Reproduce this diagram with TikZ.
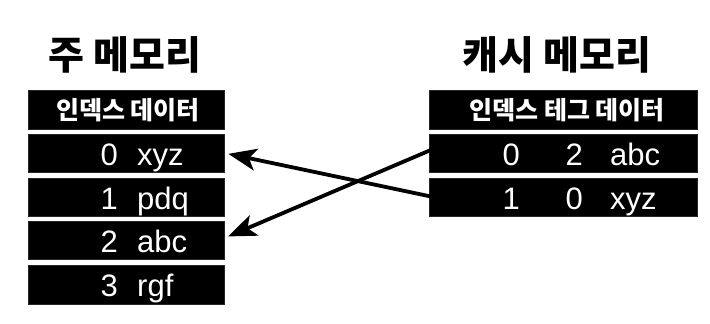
\documentclass[tikz,border=0pt]{standalone}
\usepackage{fontspec}
\setmainfont{Liberation Sans}
\newfontfamily\kr{Noto Sans CJK KR}
\usetikzlibrary{arrows.meta}
\tikzset{
  rowbox/.style={draw=black!85, fill=black, line width=1pt, inner sep=0pt},
  cell/.style={text=white, inner sep=0pt, font=\fontsize{31}{31}\selectfont},
  hdr/.style={text=white, inner sep=0pt, font=\kr\bfseries\fontsize{25}{25}\selectfont},
  ttl/.style={text=black, inner sep=0pt, font=\kr\bfseries\fontsize{39}{39}\selectfont},
  link/.style={line width=3.8pt, -{Stealth[length=28pt,width=22pt,inset=7pt]}, shorten >=4pt, shorten <=-3pt}
}
\begin{document}
\begin{tikzpicture}[x=1pt,y=-1pt]
\useasboundingbox (0,0) rectangle (710,324);
% left table
\node[ttl] (lt) at (125,55) {주 메모리};
\node[rowbox, minimum width=196pt, minimum height=39pt] (lh) at (126,109.5) {};
\node[rowbox, minimum width=196pt, minimum height=38pt] (l0) at (126,153) {};
\node[rowbox, minimum width=196pt, minimum height=38pt] (l1) at (126,197) {};
\node[rowbox, minimum width=196pt, minimum height=38pt] (l2) at (126,240) {};
\node[rowbox, minimum width=196pt, minimum height=39pt] (l3) at (126,284.5) {};
\node[hdr] (lhtext) at (128,110) {인덱스 데이터};
\node[cell, anchor=base east] (l0i) at (118,165) {0};
\node[cell, anchor=base west] (l0d) at (137,165) {xyz};
\node[cell, anchor=base east] (l1i) at (118,209) {1};
\node[cell, anchor=base west] (l1d) at (137,209) {pdq};
\node[cell, anchor=base east] (l2i) at (118,252) {2};
\node[cell, anchor=base west] (l2d) at (137,252) {abc};
\node[cell, anchor=base east] (l3i) at (118,296) {3};
\node[cell, anchor=base west] (l3d) at (137,296) {rgf};
% right table
\node[ttl] (rt) at (557,55) {캐시 메모리};
\node[rowbox, minimum width=268pt, minimum height=39pt] (rh) at (563,109.5) {};
\node[rowbox, minimum width=268pt, minimum height=38pt] (r0) at (563,153) {};
\node[rowbox, minimum width=268pt, minimum height=38pt] (r1) at (563,197) {};
\node[hdr] (rhtext) at (567,110) {인덱스 테그 데이터};
\node[cell, anchor=base east] (r0i) at (520,165) {0};
\node[cell, anchor=base east] (r0t) at (583,165) {2};
\node[cell, anchor=base west] (r0d) at (610,165) {abc};
\node[cell, anchor=base east] (r1i) at (520,209) {1};
\node[cell, anchor=base east] (r1t) at (583,209) {0};
\node[cell, anchor=base west] (r1d) at (610,209) {xyz};
% connectors
\draw[link] ([yshift=1pt]r1.west) -- (l0.east);
\draw[link] ([yshift=2pt]r0.west) -- ([yshift=2pt]l2.east);
\end{tikzpicture}
\end{document}
